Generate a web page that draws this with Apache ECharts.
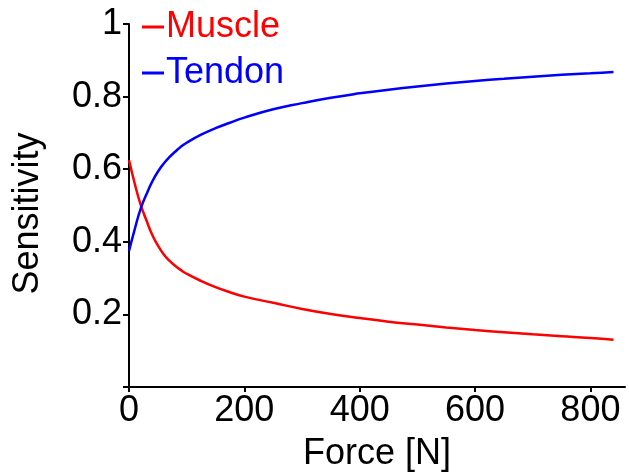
<!DOCTYPE html>
<html>
<head>
<meta charset="utf-8">
<script src="https://cdn.jsdelivr.net/npm/echarts@6/dist/echarts.min.js"></script>
<style>
html, body { margin: 0; padding: 0; background: #fff; }
#chart { width: 629px; height: 475px; }
</style>
</head>
<body>
<div id="chart"></div>
<script>
// force values [N]
var force = [0, 10, 20, 30, 40, 50, 60, 70, 80, 90, 100, 125, 150, 175, 200, 250, 300, 350, 400, 450, 500, 550, 600, 650, 700, 750, 800, 840];
// sensitivity
var muscle = [0.625, 0.56, 0.503, 0.46, 0.42, 0.39, 0.366, 0.348, 0.334, 0.322, 0.312, 0.292, 0.275, 0.261, 0.249, 0.232, 0.215, 0.201, 0.19, 0.18, 0.172, 0.164, 0.157, 0.151, 0.145, 0.14, 0.135, 0.13];
var tendon = [0.375, 0.435, 0.49, 0.53, 0.565, 0.593, 0.615, 0.633, 0.648, 0.662, 0.673, 0.695, 0.713, 0.728, 0.742, 0.765, 0.782, 0.797, 0.809, 0.819, 0.828, 0.836, 0.843, 0.849, 0.855, 0.86, 0.864, 0.868];
var xTicks = [0, 200, 400, 600, 800];
var yTicks = [0, 0.2, 0.4, 0.6, 0.8, 1];
var yLabels = [0.2, 0.4, 0.6, 0.8, 1];

function pairs(xs, ys) {
	var out = [];
	for (var i = 0; i < xs.length; i++) out.push([xs[i], ys[i]]);
	return out;
}

var font = "'Liberation Sans', Arial, sans-serif";
var chart = echarts.init(document.getElementById("chart"));
chart.setOption({
	animation: false,
	grid: { left: 129, right: 4, top: 24, bottom: 88, containLabel: false, outerBoundsMode: 'none' },
	legend: {
		left: 137, top: 4, orient: 'vertical', itemGap: 10,
		itemWidth: 22, itemHeight: 3,
		icon: 'rect',
		textStyle: { fontFamily: font, fontSize: 36, color: 'inherit', padding: [0, 0, 0, -3] },
		data: ['Muscle', 'Tendon']
	},
	xAxis: {
		type: 'value', min: 0, max: 860,
		name: 'Force [N]', nameLocation: 'middle', nameGap: 49,
		nameTextStyle: { fontFamily: font, fontSize: 36, color: '#000' },
		axisLine: { lineStyle: { color: '#000', width: 2 } },
		axisTick: { customValues: xTicks, length: 5, lineStyle: { color: '#000', width: 2 } },
		axisLabel: { customValues: xTicks, fontFamily: font, fontSize: 36, color: '#000', margin: 6 },
		splitLine: { show: false }
	},
	yAxis: {
		type: 'value', min: 0, max: 1,
		name: 'Sensitivity', nameLocation: 'middle', nameGap: 83,
		nameTextStyle: { fontFamily: font, fontSize: 36, color: '#000', padding: [0, 16, 0, 0] },
		axisLine: { lineStyle: { color: '#000', width: 2 } },
		axisTick: { customValues: yTicks, length: 6, lineStyle: { color: '#000', width: 2 } },
		axisLabel: { customValues: yLabels, fontFamily: font, fontSize: 36, color: '#000', margin: 7 },
		splitLine: { show: false }
	},
	series: [
		{
			name: 'Muscle', type: 'line', smooth: 0.5, showSymbol: false,
			data: pairs(force, muscle),
			itemStyle: { color: '#ff0000' },
			lineStyle: { color: '#ff0000', width: 2.5 }
		},
		{
			name: 'Tendon', type: 'line', smooth: 0.5, showSymbol: false,
			data: pairs(force, tendon),
			itemStyle: { color: '#0000ff' },
			lineStyle: { color: '#0000ff', width: 2.5 }
		}
	]
});
</script>
</body>
</html>
